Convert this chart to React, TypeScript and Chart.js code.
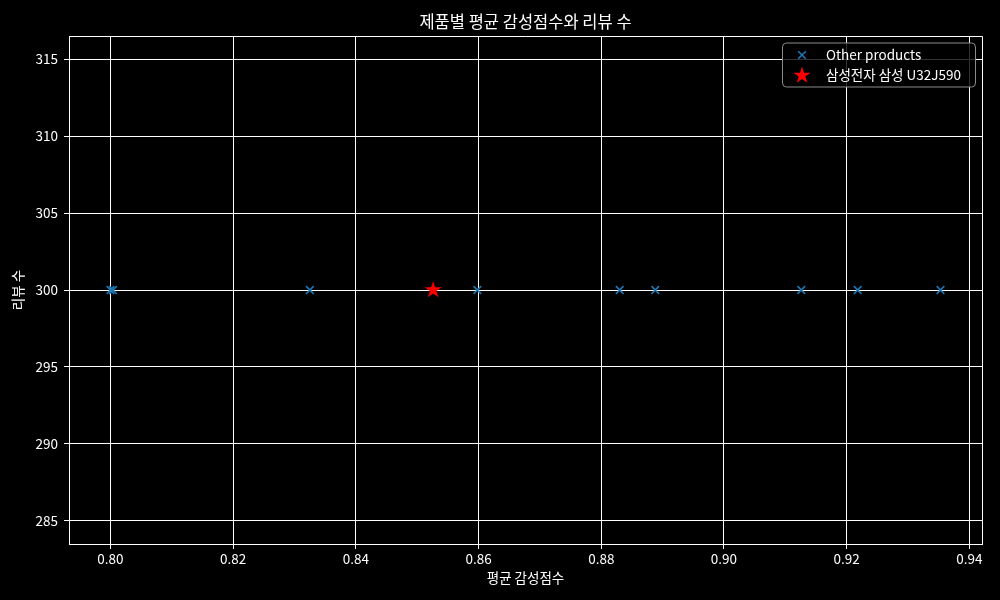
import React, { useEffect, useRef } from "react";
import { Chart, registerables } from "chart.js";

Chart.register(...registerables);

const otherScores = [0.8, 0.8004, 0.8325, 0.8598, 0.883, 0.8888, 0.9126, 0.9218, 0.9353];
const otherReviews = [300, 300, 300, 300, 300, 300, 300, 300, 300];
const targetScores = [0.8526];
const targetReviews = [300];
const xTicks = [0.8, 0.82, 0.84, 0.86, 0.88, 0.9, 0.92, 0.94];
const yTicks = [285, 290, 295, 300, 305, 310, 315];

const titleText = "제품별 평균 감성점수와 리뷰 수";
const xTitle = "평균 감성점수";
const yTitle = "리뷰 수";
const otherLabel = "Other products";
const targetLabel = "삼성전자 삼성 U32J590";

const FONT = '"Noto Sans CJK KR", "Noto Sans", sans-serif';
const BLUE = "#1f77b4";

function starPath(ctx: CanvasRenderingContext2D, cx: number, cy: number, R: number) {
  const r = R * 0.381966;
  ctx.beginPath();
  for (let i = 0; i < 10; i++) {
    const ang = -Math.PI / 2 + (i * Math.PI) / 5;
    const rad = i % 2 === 0 ? R : r;
    const x = cx + rad * Math.cos(ang);
    const y = cy + rad * Math.sin(ang);
    if (i === 0) ctx.moveTo(x, y);
    else ctx.lineTo(x, y);
  }
  ctx.closePath();
}

function makeStar(R: number): HTMLCanvasElement {
  const c = document.createElement("canvas");
  const s = Math.ceil(R * 2 + 2);
  c.width = s;
  c.height = s;
  const ctx = c.getContext("2d")!;
  ctx.fillStyle = "red";
  starPath(ctx, s / 2, s / 2, R);
  ctx.fill();
  return c;
}

function drawX(ctx: CanvasRenderingContext2D, cx: number, cy: number, h: number) {
  ctx.save();
  ctx.strokeStyle = BLUE;
  ctx.lineWidth = 1.6;
  ctx.beginPath();
  ctx.moveTo(cx - h, cy - h);
  ctx.lineTo(cx + h, cy + h);
  ctx.moveTo(cx - h, cy + h);
  ctx.lineTo(cx + h, cy - h);
  ctx.stroke();
  ctx.restore();
}

const overlayPlugin = {
  id: "overlay",
  beforeDatasetsDraw(chart: any) {
    const ctx: CanvasRenderingContext2D = chart.ctx;
    const a = chart.chartArea;
    ctx.save();
    ctx.strokeStyle = "#ffffff";
    ctx.lineWidth = 1;
    ctx.beginPath();
    ctx.moveTo(a.left, a.top + 0.5);
    ctx.lineTo(a.right + 0.5, a.top + 0.5);
    ctx.lineTo(a.right + 0.5, a.bottom);
    ctx.stroke();
    ctx.restore();
  },
  afterDraw(chart: any) {
    const ctx: CanvasRenderingContext2D = chart.ctx;
    const area = chart.chartArea;
    ctx.save();
    // title
    ctx.fillStyle = "#ffffff";
    ctx.font = `16.5px ${FONT}`;
    ctx.textAlign = "center";
    ctx.textBaseline = "middle";
    ctx.fillText(titleText, (area.left + area.right) / 2, 21.5);
    // legend box
    const bx = 782.5, by = 43, bw = 193, bh = 44, rr = 4;
    ctx.beginPath();
    ctx.moveTo(bx + rr, by);
    ctx.lineTo(bx + bw - rr, by);
    ctx.quadraticCurveTo(bx + bw, by, bx + bw, by + rr);
    ctx.lineTo(bx + bw, by + bh - rr);
    ctx.quadraticCurveTo(bx + bw, by + bh, bx + bw - rr, by + bh);
    ctx.lineTo(bx + rr, by + bh);
    ctx.quadraticCurveTo(bx, by + bh, bx, by + bh - rr);
    ctx.lineTo(bx, by + rr);
    ctx.quadraticCurveTo(bx, by, bx + rr, by);
    ctx.closePath();
    ctx.fillStyle = "rgba(0,0,0,0.8)";
    ctx.fill();
    ctx.strokeStyle = "#8a8a8a";
    ctx.lineWidth = 1;
    ctx.stroke();
    // legend entries
    drawX(ctx, 802, 55, 3.8);
    ctx.fillStyle = "red";
    starPath(ctx, 802, 75.5, 9);
    ctx.fill();
    ctx.fillStyle = "#ffffff";
    ctx.font = `13.5px ${FONT}`;
    ctx.textAlign = "left";
    ctx.textBaseline = "middle";
    ctx.fillText(otherLabel, 826, 55);
    ctx.fillText(targetLabel, 826, 75);
    ctx.restore();
  },
};

export default function App() {
  const ref = useRef<HTMLCanvasElement>(null);
  useEffect(() => {
    document.body.style.margin = "0";
    document.body.style.background = "#000";
    const star = makeStar(9);
    const chart = new Chart(ref.current!, {
      type: "scatter",
      data: {
        datasets: [
          {
            label: otherLabel,
            data: otherScores.map((x, i) => ({ x, y: otherReviews[i] })),
            pointStyle: "crossRot",
            pointRadius: 5.4,
            borderColor: BLUE,
            backgroundColor: BLUE,
            pointBorderWidth: 1.6,
          },
          {
            label: targetLabel,
            data: targetScores.map((x, i) => ({ x, y: targetReviews[i] })),
            pointStyle: star as any,
            pointRadius: 9,
            borderColor: "red",
            backgroundColor: "red",
          },
        ],
      },
      options: {
        animation: false,
        responsive: false,
        layout: { padding: { top: 36, right: 18, left: 0, bottom: 0 } },
        plugins: {
          legend: { display: false },
          title: { display: false },
          tooltip: { enabled: false },
        },
        scales: {
          x: {
            type: "linear",
            min: 0.79324,
            max: 0.94206,
            afterBuildTicks: (s: any) => {
              s.ticks = xTicks.map((value) => ({ value }));
            },
            afterFit: (s: any) => {
              s.height = 56;
            },
            grid: { color: "#ffffff", lineWidth: 1, tickLength: 5, drawTicks: true },
            border: { color: "#ffffff", width: 1 },
            ticks: {
              color: "#ffffff",
              font: { family: FONT, size: 13.5 },
              padding: 2,
              autoSkip: false,
              maxRotation: 0,
              callback: (v: any) => Number(v).toFixed(2),
            },
            title: {
              display: true,
              text: xTitle,
              color: "#ffffff",
              font: { family: FONT, size: 13.5 },
              padding: { top: 0, bottom: 14 },
            },
          },
          y: {
            type: "linear",
            min: 283.5,
            max: 316.5,
            afterBuildTicks: (s: any) => {
              s.ticks = yTicks.map((value) => ({ value }));
            },
            afterFit: (s: any) => {
              s.width = 69;
            },
            grid: { color: "#ffffff", lineWidth: 1, tickLength: 5, drawTicks: true },
            border: { color: "#ffffff", width: 1 },
            ticks: {
              color: "#ffffff",
              font: { family: FONT, size: 13.5 },
              padding: 6,
              autoSkip: false,
              callback: (v: any) => String(v),
            },
            title: {
              display: true,
              text: yTitle,
              color: "#ffffff",
              font: { family: FONT, size: 13.5 },
              padding: { top: 10, bottom: 0 },
            },
          },
        },
      },
      plugins: [overlayPlugin],
    } as any);
    return () => chart.destroy();
  }, []);
  return (
    <div style={{ width: 1000, height: 600, background: "#000" }}>
      <canvas ref={ref} width={1000} height={600} style={{ display: "block" }} />
    </div>
  );
}
